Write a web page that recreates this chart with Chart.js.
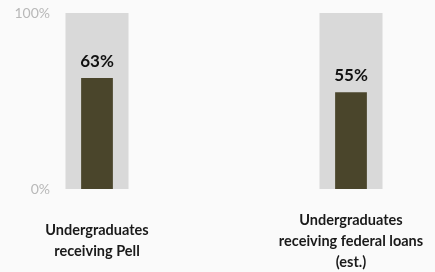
<!DOCTYPE html>
<html lang="en">
<head>
  <meta charset="UTF-8" />
  <title>Undergraduates receiving aid</title>
  <script src="https://cdn.jsdelivr.net/npm/chart.js"></script>
  <style>
    body { margin: 0; background: #fafafa; }
    #wrap { width: 435px; height: 272px; position: relative; }
  </style>
</head>
<body>
<div id="wrap"><canvas id="aidChart"></canvas></div>

<script>
  // categories (multi-line labels) and values
  const categories = [
    ['Undergraduates', 'receiving Pell'],
    ['Undergraduates', 'receiving federal loans', '(est.)']
  ];
  const shares = [63, 55];      // percent of undergraduates
  const fullScale = [100, 100]; // the grey "out of 100%" backdrop
  const yTicks = [0, 100];

  // draws the "63%" labels over each dark bar
  const valueLabels = {
    id: 'valueLabels',
    afterDatasetsDraw(chart) {
      const ctx = chart.ctx;
      const meta = chart.getDatasetMeta(0);
      ctx.save();
      ctx.font = 'bold 17px Lato';
      ctx.fillStyle = '#111';
      ctx.textAlign = 'center';
      ctx.textBaseline = 'middle';
      meta.data.forEach((bar, i) => {
        ctx.fillText(shares[i] + '%', bar.x, bar.y - 17);
      });
      ctx.restore();
    }
  };

  new Chart(document.getElementById('aidChart'), {
    type: 'bar',
    data: {
      labels: categories,
      datasets: [
        {
          label: 'Share',
          data: shares,
          backgroundColor: '#4a452b',
          categoryPercentage: 1,
          barPercentage: 0.125,
          order: 0,
          clip: false
        },
        {
          label: 'Total',
          data: fullScale,
          backgroundColor: '#d9d9d9',
          categoryPercentage: 1,
          barPercentage: 0.248,
          order: 1,
          clip: false
        }
      ]
    },
    options: {
      responsive: true,
      maintainAspectRatio: false,
      animation: false,
      events: [],
      layout: { padding: { top: 13, right: 84, left: 0, bottom: 0 } },
      plugins: { legend: { display: false }, tooltip: { enabled: false } },
      datasets: { bar: { grouped: false } },
      scales: {
        x: {
          offset: false,
          afterFit: (scale) => {
            scale.height = 83;
            scale.paddingLeft = 0;
            scale.paddingRight = 0;
          },
          grid: { display: false, drawTicks: false },
          border: { display: false },
          ticks: {
            padding: 31,
            crossAlign: 'center',
            color: '#1a1a1a',
            font: { family: 'Lato', size: 14.5, weight: 'bold', lineHeight: 1.45 },
            maxRotation: 0,
            autoSkip: false
          }
        },
        y: {
          min: 0,
          max: 100,
          afterBuildTicks: (scale) => { scale.ticks = yTicks.map(v => ({ value: v })); },
          afterFit: (scale) => {
            scale.width = 97;
            scale.paddingTop = 0;
            scale.paddingBottom = 0;
          },
          grid: { display: false, drawTicks: false },
          border: { display: false },
          ticks: {
            padding: 47,
            color: '#b8b8b8',
            font: { family: 'Lato', size: 14 },
            callback: v => v + '%'
          }
        }
      }
    },
    plugins: [valueLabels]
  });
</script>
</body>
</html>
